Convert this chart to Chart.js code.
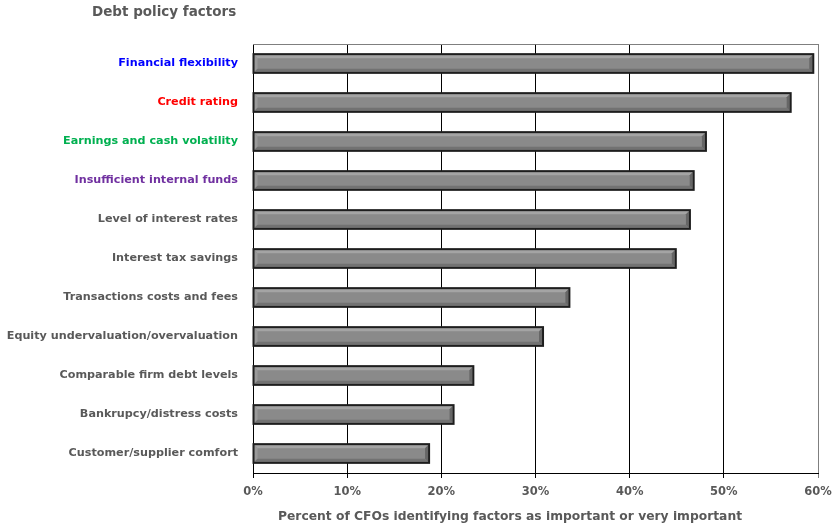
<!DOCTYPE html>
<html>
<head>
<meta charset="utf-8">
<script src="https://cdn.jsdelivr.net/npm/chart.js@4.4.1/dist/chart.umd.min.js"></script>
<style>
  html, body { margin: 0; padding: 0; background: #fff; }
  #wrap { width: 834px; height: 524px; position: relative; }
</style>
</head>
<body>
<div id="wrap"><canvas id="c"></canvas></div>
<script>
// Debt policy factors: share of CFOs rating each factor important or very important
const factors = [
  'Financial flexibility',
  'Credit rating',
  'Earnings and cash volatility',
  'Insufficient internal funds',
  'Level of interest rates',
  'Interest tax savings',
  'Transactions costs and fees',
  'Equity undervaluation/overvaluation',
  'Comparable firm debt levels',
  'Bankrupcy/distress costs',
  'Customer/supplier comfort'
];
const percentImportant = [59.5, 57.1, 48.1, 46.8, 46.4, 44.9, 33.6, 30.8, 23.4, 21.3, 18.7];
const labelColors = ['#0000ff', '#ff0000', '#00b050', '#7030a0',
  '#595959', '#595959', '#595959', '#595959', '#595959', '#595959', '#595959'];
const xTicks = [0, 10, 20, 30, 40, 50, 60];
const chartTitle = 'Debt policy factors';
const xAxisTitle = 'Percent of CFOs identifying factors as important or very important';

const FONT = '"DejaVu Sans", Verdana, sans-serif';
const GREY_TEXT = '#595959';

// Raised, bevelled look on every bar, drawn over the library's bar rectangles
const bevelPlugin = {
  id: 'bevel',
  afterDatasetsDraw(chart) {
    const ctx = chart.ctx;
    const meta = chart.getDatasetMeta(0);
    ctx.save();
    meta.data.forEach(bar => {
      const p = bar.getProps(['x', 'y', 'base', 'height'], true);
      const l = p.base + 1, r = p.x - 1;
      const t = p.y - p.height / 2 + 1, b = p.y + p.height / 2 - 1;
      const bv = 3;
      // top light band
      ctx.fillStyle = '#a4a4a4';
      ctx.beginPath();
      ctx.moveTo(l, t); ctx.lineTo(r, t); ctx.lineTo(r - bv, t + bv); ctx.lineTo(l + bv, t + bv); ctx.closePath();
      ctx.fill();
      // left light band
      ctx.fillStyle = '#9a9a9a';
      ctx.beginPath();
      ctx.moveTo(l, t); ctx.lineTo(l + bv, t + bv); ctx.lineTo(l + bv, b - bv); ctx.lineTo(l, b); ctx.closePath();
      ctx.fill();
      // bottom dark band
      ctx.fillStyle = '#727272';
      ctx.beginPath();
      ctx.moveTo(l, b); ctx.lineTo(r, b); ctx.lineTo(r - bv, b - bv); ctx.lineTo(l + bv, b - bv); ctx.closePath();
      ctx.fill();
      // right dark band
      ctx.fillStyle = '#666666';
      ctx.beginPath();
      ctx.moveTo(r, t); ctx.lineTo(r, b); ctx.lineTo(r - bv, b - bv); ctx.lineTo(r - bv, t + bv); ctx.closePath();
      ctx.fill();
      // outline
      ctx.strokeStyle = '#1e1e1e';
      ctx.lineWidth = 2;
      ctx.strokeRect(p.base, p.y - p.height / 2, p.x - p.base, p.height);
    });
    ctx.restore();
  }
};

// Plot frame and free-standing titles
const framePlugin = {
  id: 'frame',
  beforeDatasetsDraw(chart) {
    const { ctx, chartArea: a } = chart;
    ctx.save();
    ctx.strokeStyle = '#7f7f7f';
    ctx.lineWidth = 1;
    ctx.beginPath();
    ctx.moveTo(a.left, a.top + 0.5); ctx.lineTo(a.right + 0.5, a.top + 0.5);
    ctx.lineTo(a.right + 0.5, a.bottom);
    ctx.stroke();
    ctx.restore();
  },
  afterDraw(chart) {
    const { ctx } = chart;
    ctx.save();
    ctx.fillStyle = GREY_TEXT;
    ctx.textBaseline = 'middle';
    ctx.font = 'bold 13.5px ' + FONT;
    ctx.textAlign = 'left';
    ctx.fillText(chartTitle, 92, 12.5);
    ctx.font = 'bold 12.3px ' + FONT;
    ctx.textAlign = 'center';
    ctx.fillText(xAxisTitle, 510, 517);
    ctx.restore();
  }
};

new Chart(document.getElementById('c'), {
  type: 'bar',
  data: {
    labels: factors,
    datasets: [{
      data: percentImportant,
      backgroundColor: '#8a8a8a',
      borderColor: '#1e1e1e',
      borderWidth: 0,
      barPercentage: 0.48,
      categoryPercentage: 1.0
    }]
  },
  options: {
    indexAxis: 'y',
    responsive: true,
    maintainAspectRatio: false,
    animation: false,
    layout: { padding: { top: 44, right: 16, bottom: 0, left: 0 } },
    plugins: { legend: { display: false }, tooltip: { enabled: false }, title: { display: false } },
    scales: {
      x: {
        min: 0, max: 60,
        afterBuildTicks(axis) { axis.ticks = xTicks.map(v => ({ value: v })); },
        afterFit(axis) { axis.height = 51; axis.paddingLeft = 0; axis.paddingRight = 0; },
        grid: {
          color: ctx => (ctx.tick && ctx.tick.value === 60) ? '#7f7f7f' : '#000000',
          lineWidth: 1,
          drawTicks: true,
          tickLength: 5
        },
        border: { display: true, color: '#000000', width: 1 },
        ticks: {
          callback: v => v + '%',
          color: GREY_TEXT,
          font: { family: FONT, size: 11.5, weight: 'bold' },
          padding: 7,
          maxRotation: 0
        }
      },
      y: {
        afterFit(axis) { axis.width = 253; axis.paddingTop = 0; axis.paddingBottom = 0; },
        grid: { display: false, drawTicks: false },
        border: { display: true, color: '#000000', width: 1 },
        ticks: {
          color: ctx => labelColors[ctx.index],
          font: { family: FONT, size: 11.2, weight: 'bold' },
          padding: 15,
          autoSkip: false
        }
      }
    }
  },
  plugins: [framePlugin, bevelPlugin]
});
</script>
</body>
</html>
